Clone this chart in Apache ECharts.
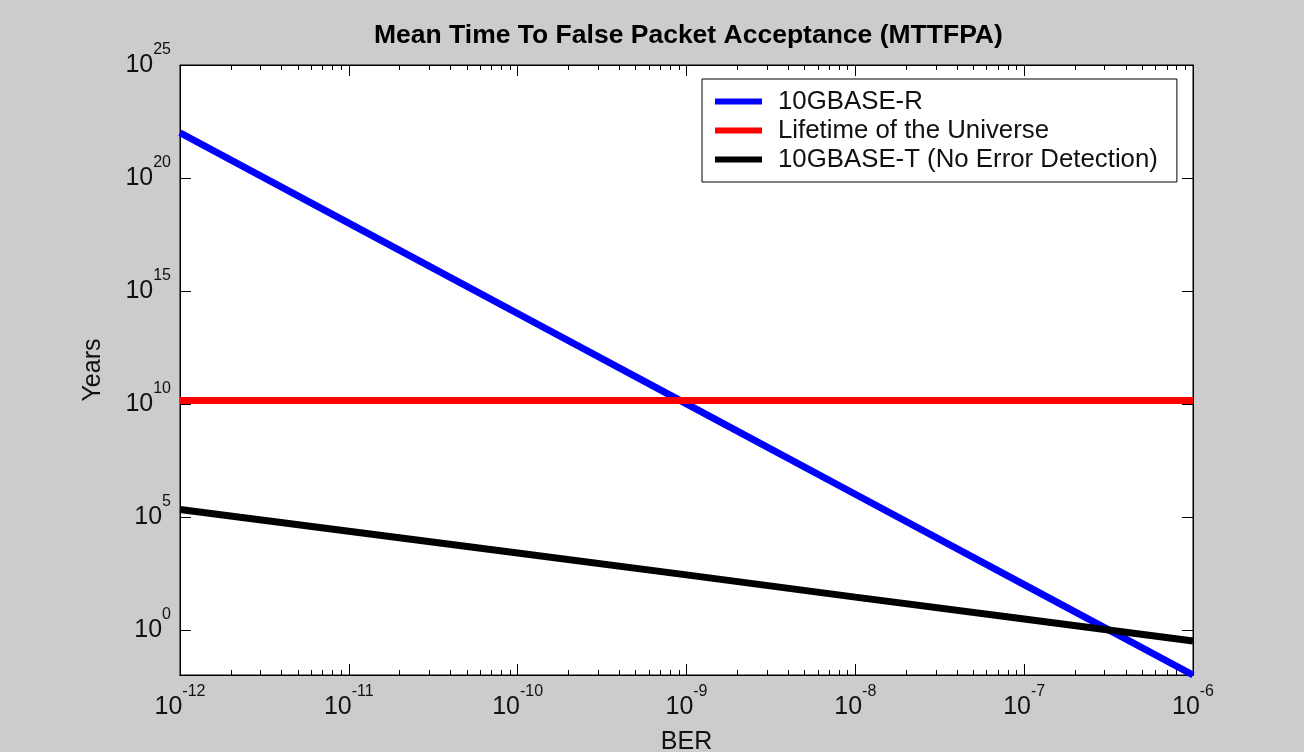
<!DOCTYPE html>
<html>
<head>
<meta charset="utf-8">
<title>MTTFPA</title>
<script src="https://cdn.jsdelivr.net/npm/echarts@6/dist/echarts.min.js"></script>
<style>
  html, body { margin: 0; padding: 0; background: #cccccc; }
  #chart { width: 1304px; height: 752px; }
</style>
</head>
<body>
<div id="chart"></div>
<script>
// Bit error rate at each decade (x axis)
const berValues = [1e-12, 1e-11, 1e-10, 1e-9, 1e-8, 1e-7, 1e-6];
// Mean time to false packet acceptance, in years
const mttfpa10GBaseR = [1e22, 1e18, 1e14, 1e10, 1e6, 1e2, 1e-2];
const universeLifetime = [1.4e10, 1.4e10, 1.4e10, 1.4e10, 1.4e10, 1.4e10, 1.4e10];
const mttfpa10GBaseT = [2.1e5, 2.3e4, 2.5e3, 2.7e2, 28, 3.0, 0.32];

const seriesNames = ['10GBASE-R', 'Lifetime of the Universe', '10GBASE-T (No Error Detection)'];
const seriesColors = ['#0000ff', '#ff0000', '#000000'];

// Tick positions
const xMajorTicks = [1e-12, 1e-11, 1e-10, 1e-9, 1e-8, 1e-7, 1e-6];
const xMinorTicks = [];
for (let d = -12; d < -6; d++) {
  for (let k = 2; k <= 9; k++) xMinorTicks.push(k * Math.pow(10, d));
}
const yMajorTicks = [1, 1e5, 1e10, 1e15, 1e20, 1e25];

const FONT = '"Liberation Sans", Arial, Helvetica, sans-serif';

function powerLabel(v) {
  return '{b|10}{s|' + Math.round(Math.log10(v)) + '}';
}
const powerRich = {
  b: { fontFamily: FONT, fontSize: 25, lineHeight: 46, color: '#111' },
  s: { fontFamily: FONT, fontSize: 16, lineHeight: 17, verticalAlign: 'top', color: '#111' }
};

function makeX(position, ticks, len, withLabels) {
  return {
    type: 'log',
    logBase: 10,
    position: position,
    min: 1e-12,
    max: 1e-6,
    gridIndex: 0,
    axisLine: { show: true, lineStyle: { color: '#000', width: 1 } },
    axisTick: { show: true, inside: true, length: len, customValues: ticks, lineStyle: { color: '#000', width: 1 } },
    axisLabel: withLabels ? {
      show: true, margin: 9, customValues: xMajorTicks,
      formatter: powerLabel, rich: powerRich
    } : { show: false },
    splitLine: { show: false },
    minorTick: { show: false }
  };
}

function makeY(position, withLabels) {
  return {
    type: 'log',
    logBase: 10,
    position: position,
    min: 1e-2,
    max: 1e25,
    axisLine: { show: true, lineStyle: { color: '#000', width: 1 } },
    axisTick: { show: true, inside: true, length: 11, customValues: yMajorTicks, lineStyle: { color: '#000', width: 1 } },
    axisLabel: withLabels ? {
      show: true, margin: 9, customValues: yMajorTicks,
      formatter: powerLabel, rich: powerRich
    } : { show: false },
    splitLine: { show: false },
    minorTick: { show: false }
  };
}

const xMain = makeX('bottom', xMajorTicks, 11, true);
xMain.name = 'BER';
xMain.nameLocation = 'middle';
xMain.nameGap = 55;
xMain.nameTextStyle = { fontFamily: FONT, fontSize: 25, color: '#111' };

const yMain = makeY('left', true);
yMain.name = 'Years';
yMain.nameLocation = 'middle';
yMain.nameGap = 74;
yMain.nameTextStyle = { fontFamily: FONT, fontSize: 25, color: '#111' };

const seriesData = [mttfpa10GBaseR, universeLifetime, mttfpa10GBaseT];

const chart = echarts.init(document.getElementById('chart'), null, { renderer: 'canvas' });
chart.setOption({
  backgroundColor: '#cccccc',
  animation: false,
  title: {
    text: 'Mean Time To False Packet Acceptance (MTTFPA)',
    left: 369,
    top: 17,
    textStyle: { fontFamily: FONT, fontSize: 26.5, fontWeight: 'bold', color: '#000' }
  },
  grid: {
    left: 180, right: 111, top: 65, bottom: 77,
    outerBoundsMode: 'none',
    containLabel: false,
    show: true, backgroundColor: '#ffffff', borderColor: '#000', borderWidth: 1
  },
  legend: {
    orient: 'vertical',
    left: 702,
    top: 79,
    padding: [8, 19, 8, 13],
    itemGap: 0,
    itemWidth: 47,
    itemHeight: 6,
    icon: 'rect',
    backgroundColor: '#ffffff',
    borderColor: '#000',
    borderWidth: 1,
    borderRadius: 0,
    textStyle: { fontFamily: FONT, fontSize: 25.8, lineHeight: 29, color: '#111', padding: [0, 0, 0, 11] },
    data: seriesNames
  },
  xAxis: [
    xMain,
    makeX('bottom', xMinorTicks, 5, false),
    makeX('top', xMajorTicks, 11, false),
    makeX('top', xMinorTicks, 5, false)
  ],
  yAxis: [
    yMain,
    makeY('right', false)
  ],
  series: seriesNames.map((name, i) => ({
    name: name,
    type: 'line',
    xAxisIndex: 0,
    yAxisIndex: 0,
    showSymbol: false,
    symbol: 'none',
    clip: true,
    color: seriesColors[i],
    lineStyle: { color: seriesColors[i], width: 7 },
    data: berValues.map((x, j) => [x, seriesData[i][j]])
  }))
});
</script>
</body>
</html>
